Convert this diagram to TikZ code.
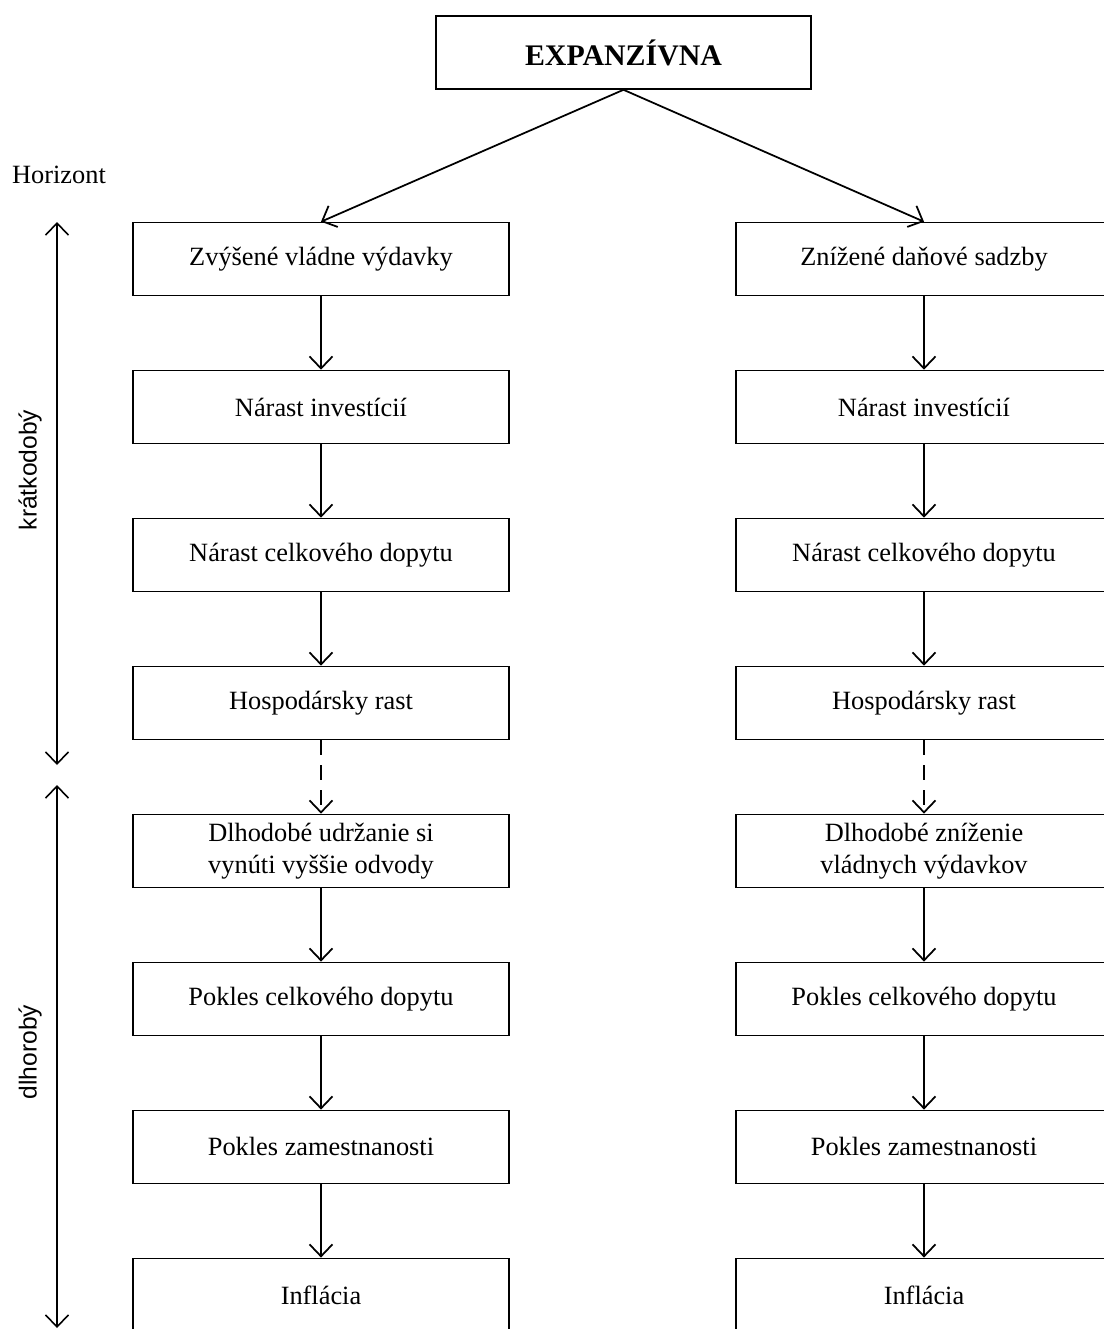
\documentclass[tikz,border=0pt]{standalone}
\usepackage{fontspec}
\setmainfont{Liberation Serif}
\newfontfamily\axisfont{Liberation Sans}
\usepackage{tikz}
\usetikzlibrary{positioning,arrows.meta,calc}

\begin{document}
\begin{tikzpicture}[->,>={Straight Barb[length=2.4mm,width=4.6mm]}, line width=1pt, node distance=1.468cm]
		\tikzstyle{every node}=[font=\fontsize{15}{18}\selectfont]
		\tikzstyle{box}=[draw=black,text=black,line width=0.9pt,minimum
		width=7.52cm,minimum height=1.46cm,align=center,inner sep=2pt]
		\tikzstyle{axis}=[<->,line width=0.9pt]
		\tikzstyle{axislabel}=[rotate=90,font=\axisfont\fontsize{14}{16}\selectfont]
		
		\useasboundingbox (0,0) rectangle (22.08,-26.58);
		
		\node [box,font=\bfseries\fontsize{17}{20}\selectfont,minimum
		width=7.5cm,minimum height=1.46cm] (0) at (12.47,-1.05) {EXPANZÍVNA};
		\node (hor) at (1.18,-3.5) {Horizont};
		
		% left branch
		\node [box] (l1) at (6.42,-5.18) {Zvýšené vládne výdavky};
		\node [box,below=of l1] (l2) {Nárast investícií};
		\node [box,below=of l2] (l3) {Nárast celkového dopytu};
		\node [box,below=of l3] (l4) {Hospodársky rast};
		\node [box,below=of l4] (l5) {Dlhodobé udržanie si\\vynúti vyššie odvody};
		\node [box,below=of l5] (l6) {Pokles celkového dopytu};
		\node [box,below=of l6] (l7) {Pokles zamestnanosti};
		\node [box,below=of l7] (l8) {Inflácia};
		
		% right branch
		\node [box] (r1) at (18.48,-5.18) {Znížené daňové sadzby};
		\node [box,below=of r1] (r2) {Nárast investícií};
		\node [box,below=of r2] (r3) {Nárast celkového dopytu};
		\node [box,below=of r3] (r4) {Hospodársky rast};
		\node [box,below=of r4] (r5) {Dlhodobé zníženie\\vládnych výdavkov};
		\node [box,below=of r5] (r6) {Pokles celkového dopytu};
		\node [box,below=of r6] (r7) {Pokles zamestnanosti};
		\node [box,below=of r7] (r8) {Inflácia};
		
		% horizon axis
		\coordinate (s1) at (1.14,-4.44); \coordinate (s2) at (1.14,-15.3);
		\coordinate (d1) at (1.14,-15.7); \coordinate (d2) at (1.14,-26.56);
		\node [axislabel] (kr) at (0.6,-9.4) {krátkodobý};
		\node [axislabel] (dl) at (0.6,-21.04) {dlhorobý};
		
		\draw [->] (0.south) to (l1.north); \draw [->] (0.south) to (r1.north);
		\draw [->] (l1) to (l2); \draw [->] (l2) to (l3); \draw [->] (l3) to (l4);
		\draw [->,dash pattern=on 3mm off 2mm] (l4) to (l5);
		\draw [->] (l5) to (l6); \draw [->] (l6) to (l7); \draw [->] (l7) to (l8);
		\draw [->] (r1) to (r2); \draw [->] (r2) to (r3); \draw [->] (r3) to (r4);
		\draw [->,dash pattern=on 3mm off 2mm] (r4) to (r5);
		\draw [->] (r5) to (r6); \draw [->] (r6) to (r7); \draw [->] (r7) to (r8);
		\draw [axis] (s1) to (s2); \draw [axis] (d1) to (d2);
	\end{tikzpicture}
\end{document}
